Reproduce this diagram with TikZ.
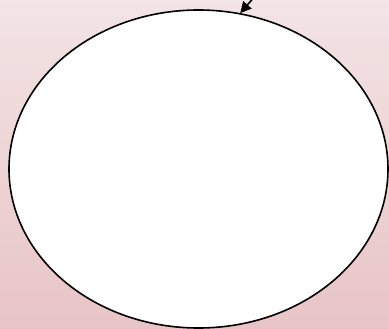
\documentclass[tikz,border=0pt]{standalone}
\usetikzlibrary{shapes.geometric,arrows.meta}
\definecolor{bgtop}{RGB}{243,228,229}
\definecolor{bgbot}{RGB}{232,196,198}
\begin{document}
\begin{tikzpicture}[x=1pt,y=-1pt, line join=round, >={Triangle[length=11pt,width=11pt]},
	statenode/.style={ellipse, draw, fill=white, line width=1.6pt, minimum width=379pt, minimum height=318pt, inner sep=0pt}]
	\useasboundingbox (0,0) rectangle (389,329);
	\clip (0,0) rectangle (389,329);
	\shade[top color=bgtop, bottom color=bgbot] (0,0) rectangle (389,329);
	\node[statenode] (state) at (198.5,169) {};
	\coordinate (src) at (256,-5);
	\draw[->, line width=1.6pt] (src) -- (state.75);
\end{tikzpicture}
\end{document}
